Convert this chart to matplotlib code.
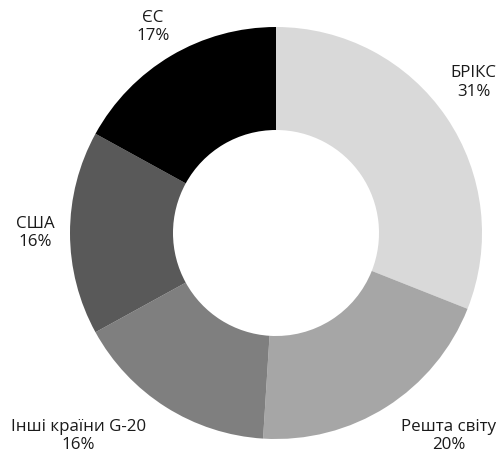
import matplotlib
matplotlib.use("Agg")
import matplotlib.pyplot as plt

labels = ["БРІКС", "Решта світу", "Інші країни G-20", "США", "ЄС"]
shares = [31, 20, 16, 16, 17]
colors = ["#d9d9d9", "#a6a6a6", "#7f7f7f", "#595959", "#000000"]
# label anchor points (data coords, radius = 1)
label_pos = [(0.96, 0.73), (0.84, -0.985), (-0.96, -0.985), (-1.17, 0.0), (-0.597, 1.0)]

plt.rcParams["font.family"] = ["Open Sans", "DejaVu Sans"]

fig = plt.figure(figsize=(4.98, 4.58), dpi=100)
ax = fig.add_axes([70 / 498, 19 / 458, 412 / 498, 412 / 458])

ax.pie(shares, colors=colors, startangle=90, counterclock=False,
       wedgeprops=dict(width=0.5, linewidth=0))

for lab, val, (x, y) in zip(labels, shares, label_pos):
    ax.text(x, y, lab + "\n" + str(val) + "%", ha="center", va="center",
            fontsize=12.2, color="#1a1a1a", clip_on=False)

ax.set_xlim(-1, 1)
ax.set_ylim(-1, 1)
ax.set_aspect("equal")
ax.axis("off")

fig.savefig("out.png", dpi=100)
